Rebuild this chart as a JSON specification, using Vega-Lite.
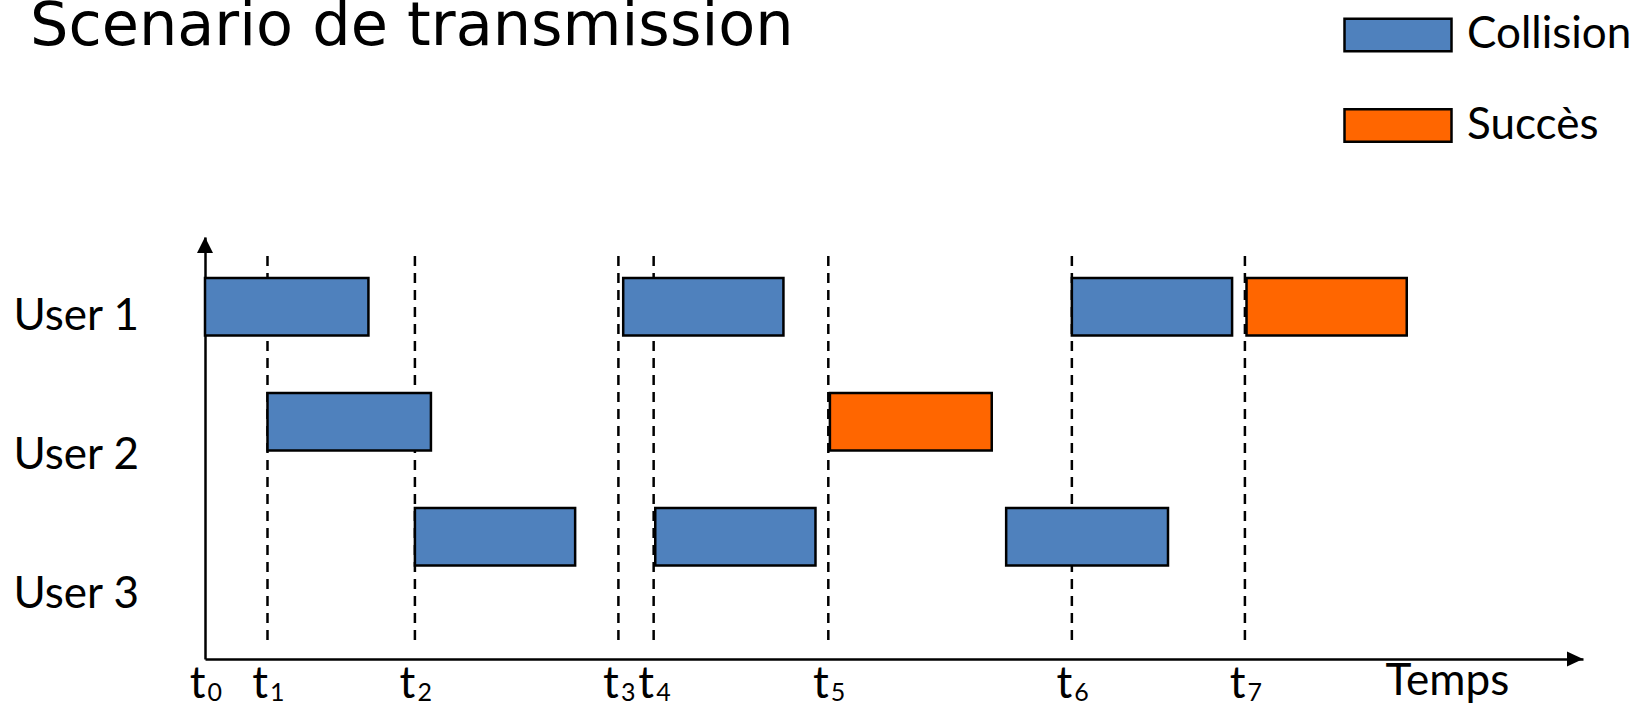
{
  "$schema": "https://vega.github.io/schema/vega-lite/v6.json",
  "width": 1378,
  "height": 422,
  "autosize": {"type": "none"},
  "padding": {"left": 205, "top": 237, "right": 53, "bottom": 46},
  "background": "white",
  "config": {
    "view": {"stroke": null},
    "font": "Lato",
    "axisX": {
      "orient": "bottom",
      "labelFont": "Lato",
      "labelColor": "black",
      "labelBaseline": "alphabetic",
      "labelOverlap": false,
      "labelFlush": false,
      "labelBound": false,
      "ticks": false,
      "tickSize": 0,
      "grid": false,
      "domainColor": "black",
      "domainWidth": 2.5,
      "titleFont": "Lato",
      "titleFontSize": 44,
      "titleFontWeight": "normal",
      "titleColor": "black"
    }
  },
  "title": {
    "text": "Scenario de transmission",
    "anchor": "start",
    "frame": "group",
    "font": "DejaVu Sans",
    "fontSize": 60.5,
    "fontWeight": "normal",
    "color": "black",
    "baseline": "alphabetic",
    "offset": -125,
    "dx": -175
  },
  "datasets": {
    "transmissions": [
      {"user": "User 1", "start": 0, "end": 102, "outcome": "Collision"},
      {"user": "User 1", "start": 261, "end": 361, "outcome": "Collision"},
      {"user": "User 1", "start": 541, "end": 641, "outcome": "Collision"},
      {"user": "User 1", "start": 650, "end": 750, "outcome": "Succès"},
      {"user": "User 2", "start": 39, "end": 141, "outcome": "Collision"},
      {"user": "User 2", "start": 390, "end": 491, "outcome": "Succès"},
      {"user": "User 3", "start": 131, "end": 231, "outcome": "Collision"},
      {"user": "User 3", "start": 281, "end": 381, "outcome": "Collision"},
      {"user": "User 3", "start": 500, "end": 601, "outcome": "Collision"}
    ],
    "instants": [
      {"instant": "t0", "t": 0},
      {"instant": "t1", "t": 39},
      {"instant": "t2", "t": 131},
      {"instant": "t3", "t": 258},
      {"instant": "t4", "t": 280},
      {"instant": "t5", "t": 389},
      {"instant": "t6", "t": 541},
      {"instant": "t7", "t": 649}
    ]
  },
  "layer": [
    {
      "data": {"name": "instants"},
      "transform": [{"filter": "datum.t > 0"}],
      "mark": {"type": "rule", "color": "black", "strokeWidth": 2.5, "strokeDash": [10, 7]},
      "encoding": {
        "x": {
          "field": "t",
          "type": "quantitative",
          "scale": {"domain": [0, 860], "nice": false, "zero": false},
          "axis": {
            "orient": "bottom",
            "values": [0, 39, 131, 258, 280, 389, 541, 649],
            "labelExpr": "'t'",
            "labelFontSize": 44,
            "labelPadding": 38,
            "labelAlign": "right",
            "labelOffset": 0,
            "domain": true,
            "title": "Temps",
            "titleX": 1180,
            "titleY": 35,
            "titleAlign": "left",
            "titleBaseline": "alphabetic"
          }
        },
        "y": {"datum": 0.045, "type": "quantitative", "scale": {"domain": [0, 1], "nice": false, "zero": false}, "axis": null},
        "y2": {"datum": 0.964}
      }
    },
    {
      "data": {"name": "transmissions"},
      "mark": {"type": "bar", "stroke": "black", "strokeWidth": 2.5, "opacity": 1, "cornerRadius": 0},
      "encoding": {
        "x": {
          "field": "start",
          "type": "quantitative",
          "scale": {"domain": [0, 860], "nice": false, "zero": false},
          "axis": {
            "orient": "bottom",
            "values": [0, 39, 131, 258, 280, 389, 541, 649],
            "labelExpr": "'' + indexof([0, 39, 131, 258, 280, 389, 541, 649], datum.value)",
            "labelFontSize": 25,
            "labelPadding": 41,
            "labelAlign": "left",
            "labelOffset": 2,
            "domain": false,
            "title": null
          }
        },
        "x2": {"field": "end"},
        "y": {
          "field": "user",
          "type": "nominal",
          "scale": {"type": "band", "paddingInner": 0.5, "paddingOuter": 0.585, "align": 0.305, "round": false},
          "axis": null
        },
        "color": {
          "field": "outcome",
          "type": "nominal",
          "scale": {"domain": ["Collision", "Succès"], "range": ["#4F81BD", "#FF6600"]},
          "legend": {
            "orient": "none",
            "legendX": 1138,
            "legendY": -257,
            "direction": "vertical",
            "title": null,
            "padding": 0,
            "symbolType": "M-1,-0.305H1V0.305H-1Z",
            "symbolSize": 11449,
            "symbolStrokeColor": "black",
            "symbolStrokeWidth": 2.5,
            "symbolOpacity": 1,
            "labelFont": "Lato",
            "labelFontSize": 44,
            "labelColor": "black",
            "labelOffset": 14,
            "labelLimit": 400,
            "labelBaseline": "middle",
            "rowPadding": 13.5
          }
        }
      }
    },
    {
      "data": {"name": "transmissions"},
      "mark": {"type": "point", "opacity": 0},
      "encoding": {
        "y": {
          "field": "user",
          "type": "nominal",
          "scale": {"type": "point", "padding": 0.518, "align": 0.639, "round": false},
          "axis": {
            "orient": "left",
            "domain": true,
            "domainColor": "black",
            "domainWidth": 2.5,
            "ticks": false,
            "tickSize": 0,
            "grid": false,
            "labelAlign": "left",
            "labelBaseline": "alphabetic",
            "labelPadding": 192,
            "labelFont": "Lato",
            "labelFontSize": 44,
            "labelColor": "black",
            "labelOverlap": false,
            "labelLimit": 300,
            "title": null
          }
        }
      }
    },
    {
      "data": {"values": [{}]},
      "mark": {"type": "point", "shape": "M0,0L-0.5,1L0.5,1Z", "size": 1024, "filled": true, "color": "black", "opacity": 1, "strokeWidth": 0},
      "encoding": {
        "x": {"datum": 0, "type": "quantitative", "scale": {"domain": [0, 860], "nice": false, "zero": false}, "axis": null},
        "y": {"datum": 1, "type": "quantitative", "scale": {"domain": [0, 1], "nice": false, "zero": false}, "axis": null}
      }
    },
    {
      "data": {"values": [{}]},
      "mark": {"type": "point", "shape": "M0,0L-1,-0.47L-1,0.47Z", "size": 1024, "filled": true, "color": "black", "opacity": 1, "strokeWidth": 0},
      "encoding": {
        "x": {"datum": 860, "type": "quantitative", "scale": {"domain": [0, 860], "nice": false, "zero": false}, "axis": null},
        "y": {"datum": 0, "type": "quantitative", "scale": {"domain": [0, 1], "nice": false, "zero": false}, "axis": null}
      }
    }
  ],
  "resolve": {"scale": {"y": "independent"}, "axis": {"x": "independent"}}
}
